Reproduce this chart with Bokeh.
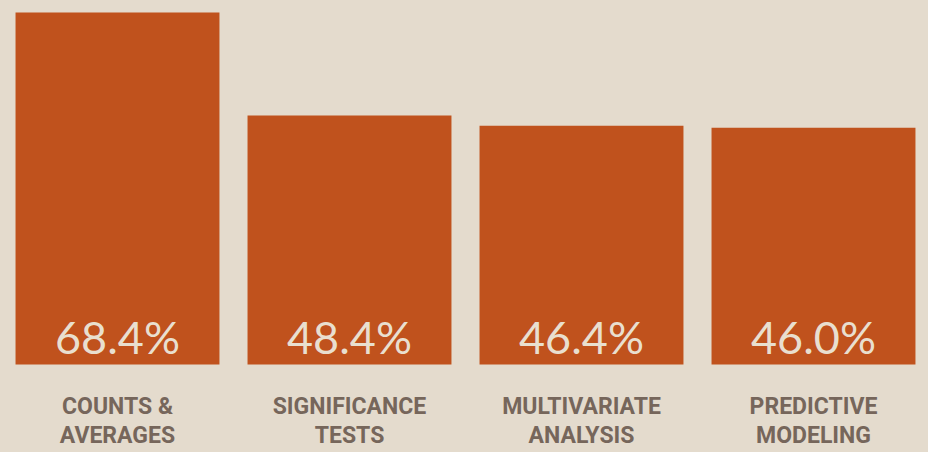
from bokeh.plotting import figure
from bokeh.models import ColumnDataSource, Range1d
from bokeh.embed import file_html
from bokeh.resources import INLINE
from bokeh.core.properties import value

categories = ["COUNTS &\nAVERAGES", "SIGNIFICANCE\nTESTS", "MULTIVARIATE\nANALYSIS", "PREDICTIVE\nMODELING"]
percent = [68.4, 48.4, 46.4, 46.0]

BG = "#e4dbcd"
BAR = "#c0521d"
VAL_COLOR = "#e9dfcf"
CAT_COLOR = "#76665b"

xs = list(range(len(categories)))
line1 = [c.split("\n")[0] for c in categories]
line2 = [c.split("\n")[1] for c in categories]
labels = [f"{v:.1f}%" for v in percent]
zeros = [0] * len(categories)

src = ColumnDataSource(dict(x=xs, top=percent, zero=zeros, lab=labels, l1=line1, l2=line2))

p = figure(width=928, height=452, output_backend="svg", toolbar_location=None,
           x_axis_location=None, y_axis_location=None,
           x_range=Range1d(-0.5043, 3.4957), y_range=Range1d(-17.1, 70.73),
           min_border=0, min_border_left=0, min_border_right=0,
           min_border_top=0, min_border_bottom=0)
p.background_fill_color = BG
p.border_fill_color = BG
p.outline_line_color = None
p.grid.visible = False

p.vbar(x="x", top="top", bottom=0, width=0.879, source=src,
       fill_color=BAR, line_color=None)

p.text(x="x", y="zero", text="lab", source=src, y_offset=-27,
       text_align="center", text_baseline="alphabetic",
       text_font=value("Lato"), text_font_size="45px",
       text_color=VAL_COLOR)

p.text(x="x", y="zero", text="l1", source=src, y_offset=42,
       text_align="center", text_baseline="alphabetic",
       text_font=value("Roboto"), text_font_size="23px",
       text_font_style="bold", text_color=CAT_COLOR)
p.text(x="x", y="zero", text="l2", source=src, y_offset=71,
       text_align="center", text_baseline="alphabetic",
       text_font=value("Roboto"), text_font_size="23px",
       text_font_style="bold", text_color=CAT_COLOR)

html = file_html(p, INLINE)
html = html.replace("</head>", "<style>html,body{background:%s;}</style></head>" % BG)
open("out.html", "w").write(html)
